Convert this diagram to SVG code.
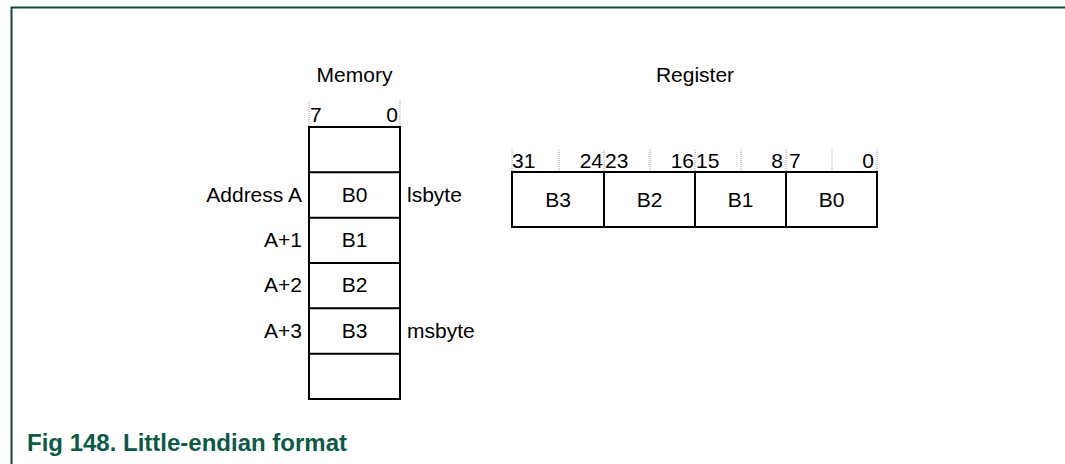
<svg xmlns="http://www.w3.org/2000/svg" width="1065" height="464" viewBox="0 0 1065 464">
<style>
.t{font-family:"Liberation Sans",Arial,sans-serif;font-size:21px;fill:#000}
.c{text-anchor:middle}
.e{text-anchor:end}
.box{fill:#fff;stroke:#000;stroke-width:2}
.tick{stroke:#999;stroke-width:1;stroke-dasharray:1,1}
.cap{font-family:"Liberation Sans",Arial,sans-serif;font-size:24px;font-weight:bold;fill:#0b5a46}
</style>
<rect width="1065" height="464" fill="#fff"/>
<path d="M11.5,464 V7.5 H1065" fill="none" stroke="#0f4a3a" stroke-width="2"/>
<text class="cap" x="27" y="451">Fig 148. Little-endian format</text>
<g id="memory">
<text class="t c" x="354.5" y="82">Memory</text>
<path class="tick" d="M309,101V127M400,101V127"/>
<text class="t" x="310" y="122">7</text>
<text class="t e" x="398" y="122">0</text>
<rect class="box" x="309" y="127" width="91" height="272"/>
<path d="M309,172.3H400M309,217.7H400M309,263H400M309,308.3H400M309,353.7H400" stroke="#000" stroke-width="2"/>
<text class="t c" x="354.5" y="202">B0</text>
<text class="t c" x="354.5" y="247">B1</text>
<text class="t c" x="354.5" y="292">B2</text>
<text class="t c" x="354.5" y="338">B3</text>
<text class="t e" x="302" y="202">Address A</text>
<text class="t e" x="302" y="247">A+1</text>
<text class="t e" x="302" y="292">A+2</text>
<text class="t e" x="302" y="338">A+3</text>
<text class="t" x="407" y="202">lsbyte</text>
<text class="t" x="407" y="338">msbyte</text>
</g>
<g id="register">
<text class="t c" x="695" y="82">Register</text>
<path class="tick" d="M512,150V172M559,150V172M604,150V172M650,150V172M695,150V172M741,150V172M786,150V172M832,150V172M877,150V172"/>
<text class="t" x="512" y="168">31</text>
<text class="t e" x="603" y="168">24</text>
<text class="t" x="605" y="168">23</text>
<text class="t e" x="694" y="168">16</text>
<text class="t" x="696" y="168">15</text>
<text class="t e" x="783" y="168">8</text>
<text class="t" x="789" y="168">7</text>
<text class="t e" x="874" y="168">0</text>
<rect class="box" x="512" y="172" width="365" height="55"/>
<path d="M604,172V227M695,172V227M786,172V227" stroke="#000" stroke-width="2"/>
<text class="t c" x="558" y="207">B3</text>
<text class="t c" x="649.5" y="207">B2</text>
<text class="t c" x="740.5" y="207">B1</text>
<text class="t c" x="831.5" y="207">B0</text>
</g>
</svg>
